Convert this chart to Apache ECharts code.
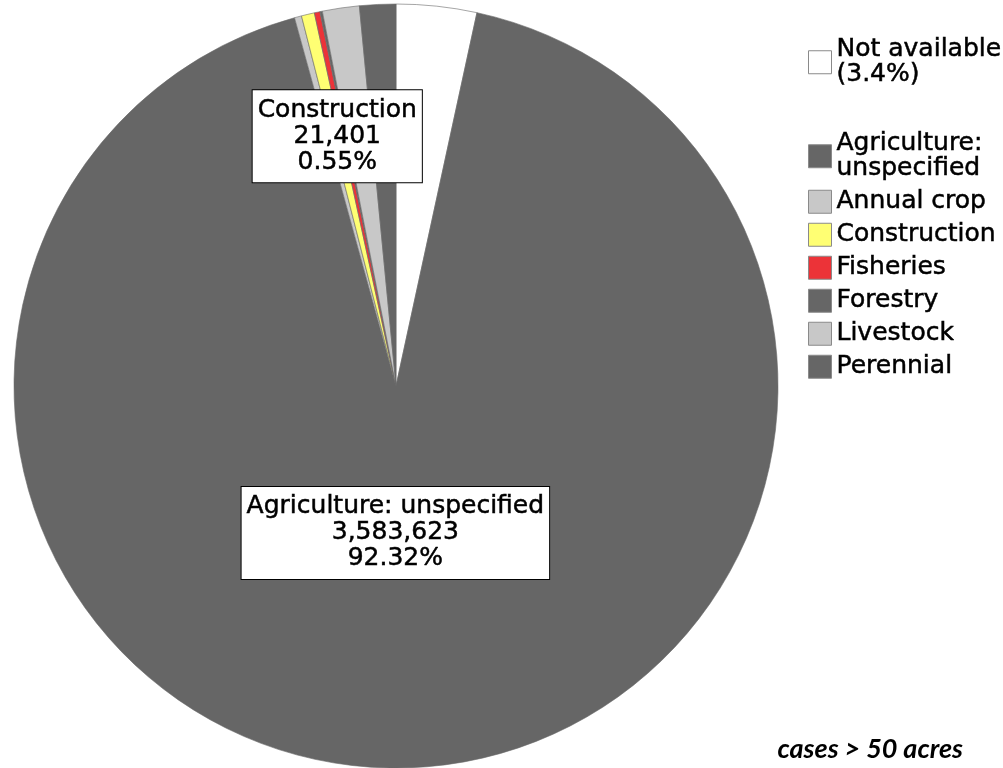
<!DOCTYPE html>
<html>
<head>
<meta charset="utf-8">
<script src="https://cdn.jsdelivr.net/npm/echarts@6/dist/echarts.min.js"></script>
<style>
  html, body { margin: 0; padding: 0; background: #ffffff; }
  #chart { width: 1003px; height: 768px; }
</style>
</head>
<body>
<div id="chart"></div>
<script>
// Land use categories (acres), clockwise from 12 o'clock
var categories = ['Not available', 'Agriculture: unspecified', 'Annual crop', 'Construction',
                  'Fisheries', 'Forestry', 'Livestock', 'Perennial'];
var acres = [131980, 3583623, 11650, 21401, 9300, 3900, 60550, 59336];
var sliceColors = ['#ffffff', '#666666', '#c8c8c8', '#ffff73', '#ec3338', '#666666', '#c8c8c8', '#666666'];
var labelledSlices = ['Agriculture: unspecified', 'Construction'];
var footnote = 'cases > 50 acres';

var FONT = 'DejaVu Sans';
var labelShift = {
  'Agriculture: unspecified': [-6, -47],
  'Construction': [-14, -61]
};

var total = acres.reduce(function (a, b) { return a + b; }, 0);

var pieData = categories.map(function (name, i) {
  return {
    name: name,
    value: acres[i],
    itemStyle: { color: sliceColors[i] },
    label: { show: labelledSlices.indexOf(name) >= 0 }
  };
});

var legendText = {
  fontFamily: FONT, fontSize: 25, lineHeight: 25, color: '#000',
  textBorderColor: '#000', textBorderWidth: 0.5
};

var chart = echarts.init(document.getElementById('chart'), null, { renderer: 'canvas' });

chart.setOption({
  animation: false,
  backgroundColor: '#ffffff',
  legend: [
    {
      data: [categories[0]],
      orient: 'vertical',
      left: 808, top: 37,
      padding: 0,
      itemWidth: 23, itemHeight: 23,
      icon: 'rect',
      itemStyle: { borderColor: '#8a8a8a', borderWidth: 1 },
      textStyle: legendText,
      selectedMode: false,
      formatter: function (name) {
        var v = acres[categories.indexOf(name)];
        return name + '\n(' + (v / total * 100).toFixed(1) + '%)';
      }
    },
    {
      data: categories.slice(1),
      orient: 'vertical',
      left: 808, top: 131,
      padding: 0,
      itemGap: 7.5,
      itemWidth: 23, itemHeight: 23,
      icon: 'rect',
      itemStyle: { borderColor: '#8a8a8a', borderWidth: 1 },
      textStyle: legendText,
      selectedMode: false,
      formatter: function (name) {
        return name.replace(': ', ':\n');
      }
    }
  ],
  graphic: [{
    type: 'text',
    right: 40,
    top: 736,
    style: {
      text: footnote,
      font: 'italic bold 27px Lato',
      fill: '#000'
    }
  }],
  series: [{
    type: 'pie',
    center: [396, 386],
    radius: 382,
    startAngle: 90,
    clockwise: true,
    avoidLabelOverlap: false,
    silent: true,
    itemStyle: { borderColor: '#6a6a6a', borderWidth: 0.6 },
    label: {
      position: 'inside',
      fontFamily: FONT,
      fontSize: 25,
      lineHeight: 26,
      color: '#000',
      textBorderColor: '#000',
      textBorderWidth: 0.5,
      align: 'center',
      backgroundColor: '#ffffff',
      borderColor: '#000000',
      borderWidth: 1,
      padding: [7, 5, 7, 5],
      formatter: function (p) {
        return p.name + '\n' + p.value.toLocaleString('en-US') + '\n' + p.percent.toFixed(2) + '%';
      }
    },
    labelLine: { show: false },
    labelLayout: function (params) {
      var name = categories[params.dataIndex];
      var s = labelShift[name];
      return s ? { dx: s[0], dy: s[1] } : {};
    },
    data: pieData
  }]
});
</script>
</body>
</html>
